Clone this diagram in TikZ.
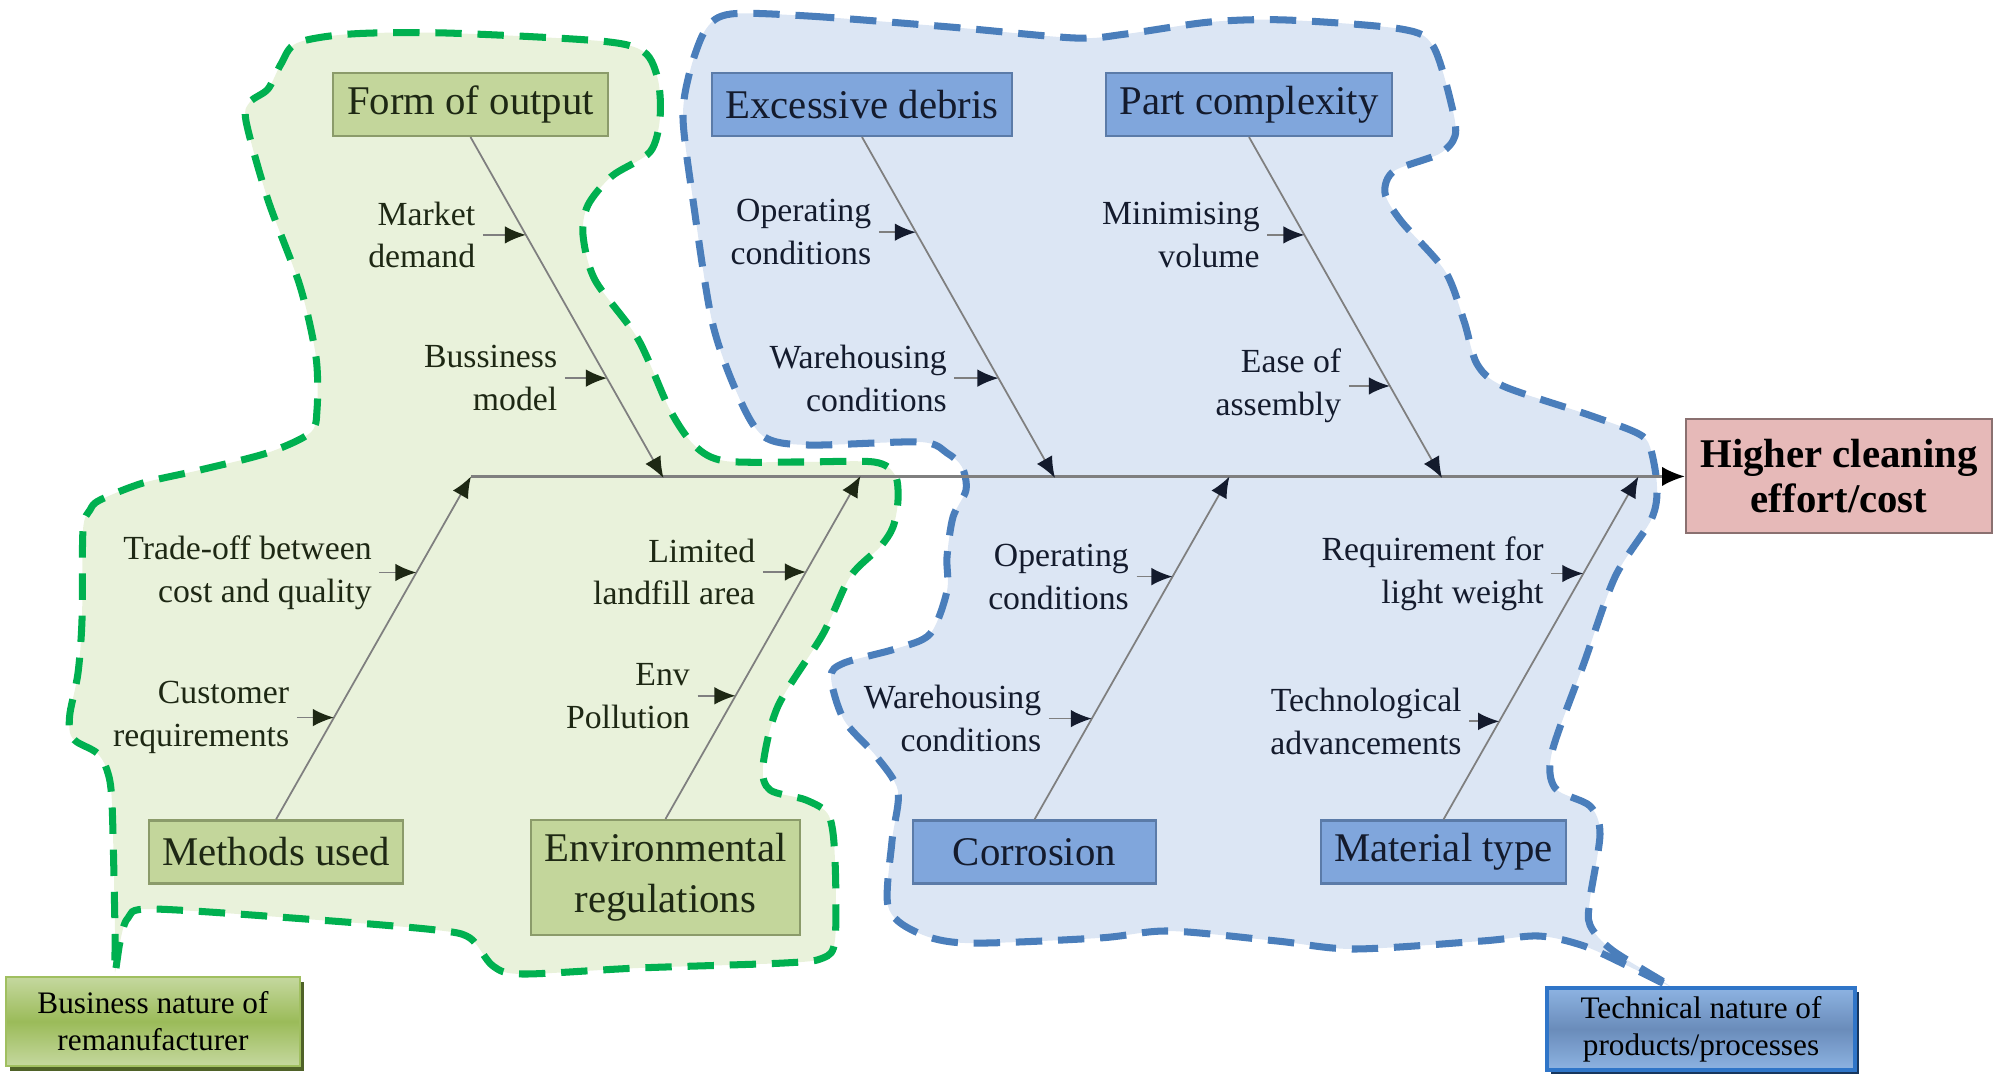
\documentclass[tikz,border=0pt]{standalone}
\usepackage{fontspec}
\setmainfont{Liberation Serif}
\usetikzlibrary{positioning,arrows.meta,shadows}
\pgfdeclarelayer{background}
\pgfsetlayers{background,main}
\definecolor{blobgreen}{HTML}{E9F2DB}
\definecolor{blobgreenline}{HTML}{00B050}
\definecolor{blobblue}{HTML}{DCE6F4}
\definecolor{blobblueline}{HTML}{4A7EBB}
\definecolor{causegreen}{HTML}{C3D69B}
\definecolor{causegreenline}{HTML}{8B9B6A}
\definecolor{causeblue}{HTML}{80A6DC}
\definecolor{causeblueline}{HTML}{5B7BA8}
\definecolor{gtext}{HTML}{1E2814}
\definecolor{btext}{HTML}{141B2D}
\definecolor{bonegray}{HTML}{7F7F7F}
\definecolor{headpink}{HTML}{E6B9B8}
\definecolor{headline}{HTML}{8A7070}
\definecolor{taggreen}{HTML}{C5D89F}
\definecolor{taggreenmid}{HTML}{9BBB59}
\definecolor{taggreenline}{HTML}{A0BF60}
\definecolor{taggreenshadow}{HTML}{4F6228}
\definecolor{tagblue}{HTML}{8DB3E2}
\definecolor{tagbluemid}{HTML}{6A8CBA}
\definecolor{tagblueline}{HTML}{2F75C8}
\definecolor{tagblueshadow}{HTML}{17365D}
\tikzstyle{cause}=[draw, line width=0.6pt, align=center, minimum height=0.63cm,
  inner sep=2pt, font=\fontsize{11.6}{14.6}\selectfont]
\tikzstyle{gcause}=[cause, fill=causegreen, draw=causegreenline, text=gtext]
\tikzstyle{bcause}=[cause, fill=causeblue, draw=causeblueline, text=btext]
\tikzstyle{sub}=[align=right, inner sep=2pt, font=\fontsize{9.6}{12.2}\selectfont]
\tikzstyle{bone}=[draw, color=bonegray, line width=0.5pt]
\tikzstyle{blob}=[line width=2pt, dash pattern=on 7.5pt off 4.5pt]
\tikzstyle{tag}=[draw, align=center, inner sep=1pt, font=\fontsize{8.9}{10.5}\selectfont]
\tikzset{twig/.style={bone, -{Latex[length=6pt,width=5pt,color=#1]}}}
\newcommand{\subcause}[5]{%
  \node (#1) [sub, text=#5, left=#3 of #2] {#4};
  \path [twig=#5] (#1.east) -- (#2);}

\begin{document}
\begin{tikzpicture}
  \useasboundingbox (0,0) rectangle (19.98,-10.74);

  % Draw the two groups behind everything
  \begin{pgfonlayer}{background}
    \path [blob, fill=blobgreen, draw=blobgreenline]
      plot [smooth cycle, tension=0.5] coordinates {
      (2.97,-0.43) (3.51,-0.34) (4.46,-0.33) (6.00,-0.41) (6.44,-0.52)
      (6.58,-0.80) (6.60,-1.18) (6.50,-1.52) (6.12,-1.76) (5.88,-2.05)
      (5.83,-2.35) (5.95,-2.80) (6.38,-3.39) (6.70,-4.10) (6.95,-4.46)
      (7.25,-4.61) (8.00,-4.62) (8.74,-4.62) (8.95,-4.75) (8.98,-5.00)
      (8.93,-5.27) (8.80,-5.47) (8.50,-5.77) (8.23,-6.34) (7.78,-7.06)
      (7.63,-7.66) (7.70,-7.90) (8.06,-8.00) (8.29,-8.16) (8.35,-8.60)
      (8.35,-9.40) (8.23,-9.58) (7.84,-9.63) (6.38,-9.68) (5.23,-9.74)
      (4.93,-9.66) (4.70,-9.38) (4.36,-9.30) (3.19,-9.20) (1.53,-9.09)
      (1.28,-9.18) (1.20,-9.42) (1.15,-9.72) (1.15,-9.30) (1.12,-8.03)
      (1.07,-7.70) (0.97,-7.53) (0.77,-7.42) (0.70,-7.33) (0.70,-7.13)
      (0.78,-6.73) (0.82,-6.20) (0.83,-5.30) (0.90,-5.10) (1.00,-5.00)
      (1.43,-4.83) (2.00,-4.70) (2.67,-4.53) (3.10,-4.33) (3.17,-4.10)
      (3.16,-3.57) (3.00,-2.86) (2.68,-2.00) (2.46,-1.21) (2.50,-1.02)
      (2.68,-0.89) (2.81,-0.64)};
    \path [blob, fill=blobblue, draw=blobblueline]
      plot [smooth cycle, tension=0.5] coordinates {
      (7.31,-0.14) (8.08,-0.16) (9.50,-0.27) (10.75,-0.38) (11.26,-0.34)
      (12.10,-0.22) (12.86,-0.20) (14.01,-0.29) (14.33,-0.46) (14.52,-1.07)
      (14.55,-1.36) (14.39,-1.54) (13.94,-1.71) (13.85,-1.93) (14.01,-2.21)
      (14.45,-2.71) (14.64,-3.21) (14.77,-3.64) (15.03,-3.86) (15.86,-4.14)
      (16.37,-4.33) (16.50,-4.47) (16.57,-4.87) (16.51,-5.20) (16.15,-5.77)
      (15.84,-6.63) (15.52,-7.52) (15.55,-7.88) (15.90,-8.06) (16.00,-8.34)
      (15.90,-8.99) (15.90,-9.25) (16.12,-9.50) (16.70,-9.86) (16.28,-9.66)
      (15.84,-9.46) (15.39,-9.36) (14.82,-9.41) (13.54,-9.49) (12.77,-9.41)
      (11.69,-9.31) (10.99,-9.38) (9.65,-9.43) (9.14,-9.31) (8.88,-9.06)
      (8.92,-8.41) (8.98,-7.91) (8.76,-7.56) (8.44,-7.20) (8.31,-6.77)
      (8.44,-6.63) (8.95,-6.49) (9.30,-6.34) (9.47,-5.91) (9.47,-5.57)
      (9.53,-5.17) (9.66,-4.90) (9.62,-4.67) (9.47,-4.53) (9.20,-4.42)
      (8.08,-4.45) (7.63,-4.36) (7.37,-3.93) (7.12,-3.21) (6.93,-2.00)
      (6.83,-1.18) (6.90,-0.71) (7.06,-0.29)};
  \end{pgfonlayer}

  % Cause boxes
  \path (4.705,-1.045) node (fo) [gcause, minimum width=2.75cm] {Form of output};
  \path (8.62,-1.045) node (ed) [bcause, minimum width=3.0cm] {Excessive debris};
  \path (12.49,-1.045) node (pc) [bcause, minimum width=2.86cm] {Part complexity};
  \path (2.76,-8.52) node (mu) [gcause, minimum width=2.54cm] {Methods used};
  \path (6.655,-8.775) node (er) [gcause, minimum width=2.69cm,
    minimum height=1.15cm] {Environmental\\regulations};
  \path (10.345,-8.52) node (co) [bcause, minimum width=2.43cm] {Corrosion};
  \path (14.435,-8.52) node (mt) [bcause, minimum width=2.45cm] {Material type};

  % Effect
  \path (18.39,-4.76) node (head) [draw=headline, fill=headpink, line width=0.6pt,
    minimum width=3.06cm, minimum height=1.14cm, align=center,
    font=\bfseries\fontsize{11.6}{12.8}\selectfont] {Higher cleaning\\effort/cost};

  % Where the bones meet the spine
  \path (fo.south)+(1.93,-3.41) coordinate (tfo);
  \path (ed.south)+(1.93,-3.41) coordinate (ted);
  \path (pc.south)+(1.93,-3.41) coordinate (tpc);
  \path (mu.north)+(1.95,3.43) coordinate (tmu);
  \path (er.north)+(1.95,3.43) coordinate (ter);
  \path (co.north)+(1.95,3.43) coordinate (tco);
  \path (mt.north)+(1.95,3.43) coordinate (tmt);

  % Spine
  \path [bone, line width=0.7pt, -{Latex[length=6.5pt,width=5.5pt,color=black]}]
    (tmu) -- (tmu -| head.west);

  % Bones
  \path [twig=gtext] (fo.south) -- coordinate[pos=0.287] (b1)
    coordinate[pos=0.707] (b2) (tfo);
  \path [twig=btext] (ed.south) -- coordinate[pos=0.279] (b3)
    coordinate[pos=0.707] (b4) (ted);
  \path [twig=btext] (pc.south) -- coordinate[pos=0.287] (b5)
    coordinate[pos=0.730] (b6) (tpc);
  \path [twig=gtext] (mu.north) -- coordinate[pos=0.297] (b7)
    coordinate[pos=0.720] (b8) (tmu);
  \path [twig=gtext] (er.north) -- coordinate[pos=0.359] (b9)
    coordinate[pos=0.720] (b10) (ter);
  \path [twig=btext] (co.north) -- coordinate[pos=0.294] (b11)
    coordinate[pos=0.708] (b12) (tco);
  \path [twig=btext] (mt.north) -- coordinate[pos=0.286] (b13)
    coordinate[pos=0.717] (b14) (tmt);

  % Sub-causes
  \subcause{s1}{b1}{4.3mm}{Market\\demand}{gtext}
  \subcause{s2}{b2}{4.2mm}{Bussiness\\model}{gtext}
  \subcause{s3}{b3}{3.7mm}{Operating\\conditions}{btext}
  \subcause{s4}{b4}{4.4mm}{Warehousing\\conditions}{btext}
  \subcause{s5}{b5}{3.7mm}{Minimising\\volume}{btext}
  \subcause{s6}{b6}{4.1mm}{Ease of\\assembly}{btext}
  \subcause{s7}{b7}{3.7mm}{Customer\\requirements}{gtext}
  \subcause{s8}{b8}{3.7mm}{Trade-off between\\cost and quality}{gtext}
  \subcause{s9}{b9}{3.8mm}{Env\\Pollution}{gtext}
  \subcause{s10}{b10}{4.3mm}{Limited\\landfill area}{gtext}
  \subcause{s11}{b11}{4.3mm}{Warehousing\\conditions}{btext}
  \subcause{s12}{b12}{3.6mm}{Operating\\conditions}{btext}
  \subcause{s13}{b13}{3.0mm}{Technological\\advancements}{btext}
  \subcause{s14}{b14}{3.2mm}{Requirement for\\light weight}{btext}

  % Group tags
  \path (1.53,-10.215) node (bn) [tag, top color=taggreen, bottom color=taggreen,
    middle color=taggreenmid, draw=taggreenline, line width=0.8pt,
    minimum width=2.94cm, minimum height=0.89cm,
    drop shadow={shadow xshift=1.2pt, shadow yshift=-1.4pt,
      fill=taggreenshadow, opacity=1}] {Business nature of\\remanufacturer};
  \path (17.01,-10.29) node (tn) [tag, top color=tagblue, bottom color=tagblue,
    middle color=tagbluemid, draw=tagblueline, line width=0.9pt,
    minimum width=3.08cm, minimum height=0.82cm,
    drop shadow={shadow xshift=1.0pt, shadow yshift=-1.0pt,
      fill=tagblueshadow, opacity=1}] {Technical nature of\\products/processes};
\end{tikzpicture}
\end{document}
